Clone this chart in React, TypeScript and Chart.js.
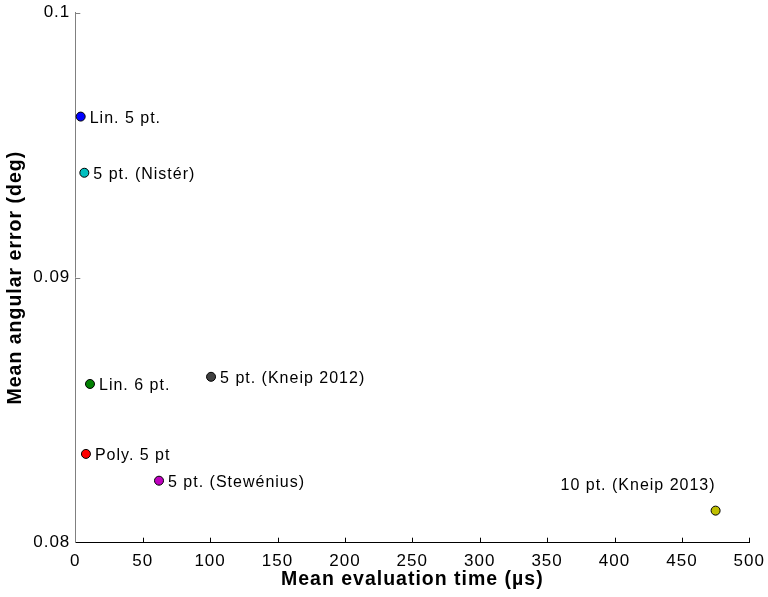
import React, { useEffect, useRef } from "react";
import { Chart, registerables } from "chart.js";

Chart.register(...registerables);

const methods = [
  "Lin. 5 pt.",
  "5 pt. (Nistér)",
  "Lin. 6 pt.",
  "5 pt. (Kneip 2012)",
  "Poly. 5 pt",
  "5 pt. (Stewénius)",
  "10 pt. (Kneip 2013)",
];
const evalTimes = [4.0, 6.7, 10.9, 100.7, 7.9, 62.1, 475];
const angularErrors = [0.09608, 0.09396, 0.08599, 0.08626, 0.08335, 0.08234, 0.08121];
const pointColors = ["#0000ff", "#00bfbf", "#008000", "#404040", "#ff0000", "#bf00bf", "#bfbf00"];
const xTicks = [0, 50, 100, 150, 200, 250, 300, 350, 400, 450, 500];
const yTicks = [0.08, 0.09, 0.1];
const yTickLabels = ["0.08", "0.09", "0.1"];

const FONT = "'Liberation Sans', Arial, Helvetica, sans-serif";

const spacingPlugin = {
  id: "letterSpacing",
  beforeLayout(chart: any) {
    chart.ctx.letterSpacing = "1px";
  },
  beforeDraw(chart: any) {
    chart.ctx.letterSpacing = "1px";
  },
};

const labelPlugin = {
  id: "pointLabels",
  afterDatasetsDraw(chart: any) {
    const ctx = chart.ctx;
    const meta = chart.getDatasetMeta(0);
    ctx.save();
    ctx.letterSpacing = "1px";
    ctx.font = `16px ${FONT}`;
    ctx.fillStyle = "#000";
    ctx.textBaseline = "alphabetic";
    meta.data.forEach((el: any, i: number) => {
      const name = methods[i];
      if (i === methods.length - 1) {
        ctx.textAlign = "right";
        ctx.fillText(name, el.x, el.y - 21);
      } else {
        ctx.textAlign = "left";
        ctx.fillText(name, el.x + 9, el.y + 6);
      }
    });
    ctx.restore();
  },
};

const tickPlugin = {
  id: "inwardTicks",
  afterDraw(chart: any) {
    const ctx = chart.ctx;
    const xs = chart.scales.x;
    const ys = chart.scales.y;
    const area = chart.chartArea;
    ctx.save();
    ctx.lineWidth = 1;
    ctx.strokeStyle = "#000";
    xs.ticks.forEach((t: any) => {
      const px = xs.getPixelForValue(t.value);
      if (Math.abs(px - area.left) < 1) return;
      ctx.beginPath();
      ctx.moveTo(Math.round(px) + 0.5, area.bottom);
      ctx.lineTo(Math.round(px) + 0.5, area.bottom - 5);
      ctx.stroke();
    });
    ctx.strokeStyle = "#808080";
    ys.ticks.forEach((t: any) => {
      const py = ys.getPixelForValue(t.value);
      if (Math.abs(py - area.bottom) < 1) return;
      ctx.beginPath();
      ctx.moveTo(area.left, Math.round(py) + 0.5);
      ctx.lineTo(area.left + 5, Math.round(py) + 0.5);
      ctx.stroke();
    });
    ctx.restore();
  },
};

export default function App() {
  const ref = useRef<HTMLCanvasElement | null>(null);
  useEffect(() => {
    if (!ref.current) return;
    const chart = new Chart(ref.current, {
      type: "scatter",
      data: {
        datasets: [
          {
            label: "methods",
            data: evalTimes.map((x, i) => ({ x, y: angularErrors[i] })),
            backgroundColor: pointColors,
            borderColor: "#000",
            borderWidth: 1,
            pointRadius: 4.5,
            pointHoverRadius: 4.5,
            clip: false as any,
          },
        ],
      },
      options: {
        animation: false,
        responsive: true,
        maintainAspectRatio: false,
        layout: { padding: { top: 12.7, right: 18.7, left: 0, bottom: 0 } },
        plugins: { legend: { display: false }, tooltip: { enabled: false } },
        scales: {
          x: {
            type: "linear",
            min: 0,
            max: 500,
            afterBuildTicks: (s: any) => {
              s.ticks = xTicks.map((v) => ({ value: v }));
            },
            afterFit: (s: any) => {
              s.height = 54.3;
              s.paddingLeft = 0;
              s.paddingRight = 0;
            },
            grid: { display: false, drawTicks: false },
            border: { display: true, color: "#000", width: 1 },
            ticks: {
              color: "#000",
              font: { family: FONT, size: 17 },
              padding: 8,
              maxRotation: 0,
              autoSkip: false,
            },
            title: {
              display: true,
              text: "Mean evaluation time (µs)",
              color: "#000",
              font: { family: FONT, size: 19.5, weight: "bold" },
              padding: { top: 0, bottom: 6 },
            },
          },
          y: {
            type: "linear",
            min: 0.08,
            max: 0.1,
            afterBuildTicks: (s: any) => {
              s.ticks = yTicks.map((v) => ({ value: v }));
            },
            afterFit: (s: any) => {
              s.width = 75.3;
              s.paddingTop = 0;
              s.paddingBottom = 0;
            },
            grid: { display: false, drawTicks: false },
            border: { display: true, color: "#808080", width: 1 },
            ticks: {
              color: "#000",
              font: { family: FONT, size: 17 },
              padding: 5,
              autoSkip: false,
              callback: (v: any) => {
                const idx = yTicks.findIndex((t) => Math.abs(t - Number(v)) < 1e-9);
                return idx >= 0 ? yTickLabels[idx] : "";
              },
            },
            title: {
              display: true,
              text: "Mean angular error (deg)",
              color: "#000",
              font: { family: FONT, size: 19.5, weight: "bold" },
              padding: { top: 4, bottom: 0 },
            },
          },
        },
      },
      plugins: [spacingPlugin, labelPlugin, tickPlugin],
    });
    return () => chart.destroy();
  }, []);
  return (
    <div style={{ position: "fixed", left: 0, top: 0, width: 768, height: 597, background: "#fff" }}>
      <canvas ref={ref} />
    </div>
  );
}
